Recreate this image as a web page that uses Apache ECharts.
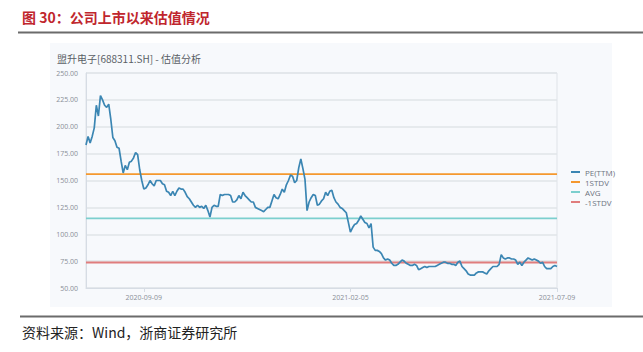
<!DOCTYPE html>
<html><head><meta charset="utf-8">
<script src="https://cdn.jsdelivr.net/npm/echarts@6/dist/echarts.min.js"></script>
<style>html,body{margin:0;padding:0;background:#fff}#c{width:643px;height:352px}</style>
</head><body><div id="c"></div>
<script>
// Trading-day calendar (category axis)
const startDate = '2020-07-31';
const endDate = '2021-07-09';
const holidays = ['2020-10-01','2020-10-02','2020-10-05','2020-10-06','2020-10-07','2020-10-08',
  '2021-01-01','2021-02-11','2021-02-12','2021-02-15','2021-02-16','2021-02-17',
  '2021-04-05','2021-05-03','2021-05-04','2021-05-05','2021-06-14'];
const tickLabels = ['2020-09-09','2021-02-05','2021-07-09'];
const seriesNames = ['PE(TTM)','1STDV','AVG','-1STDV'];

// PE(TTM) daily values
const peValues = [
183,191,185,191,199,220,210,229,225,220,218,221,207,190,187,181,180,168,157,164,
160,167,168,171,176,174,160,150,142,143,146,150,147,145,150,150,150,147,146,140,
139,136,140,136,140,143,142,142,139,135,133,130,127,125,127,125,126,124,127,122,
116,125,127,126,126,137,136,137,137,137,136,130,130,132,136,133,139,136,134,132,
130,130,125,124,123,122,121,123,125,125,131,137,134,133,137,142,139,146,150,155,
154,148,150,162,170,161,151,122,130,134,137,136,127,128,131,133,139,136,140,141,
134,130,128,125,124,122,120,111,102,106,109,110,113,117,114,111,110,106,110,88,
85,85,84,82,78,76,77,76,73,71,71,72,74,76,75,73,72,71,71,72,
71,67,68,69,70,69,70,70,70,70,71,72,73,74,74,73,73,72,72,71,
74,75,70,68,66,63,62,62,62,64,65,65,65,64,63,66,68,70,70,70,
72,81,78,77,78,78,77,77,76,72,74,71,74,76,78,77,76,77,76,75,
73,74,70,68,68,68,70,71,70];
const stdUp = 155.9;
const avg = 114.8;
const stdDown = 73.7;

function fmt(d){const m=d.getUTCMonth()+1, dd=d.getUTCDate();return d.getUTCFullYear()+'-'+(m<10?'0':'')+m+'-'+(dd<10?'0':'')+dd;}
const dates = [];
for (let d = new Date(startDate+'T00:00:00Z'); fmt(d) <= endDate; d.setUTCDate(d.getUTCDate()+1)) {
  const wd = d.getUTCDay(); const s = fmt(d);
  if (wd===0||wd===6||holidays.includes(s)) continue;
  dates.push(s);
}
const first = dates[0], last = dates[dates.length-1];
const isTick = (i, v) => tickLabels.includes(v);

const chart = echarts.init(document.getElementById('c'), null, {renderer:'svg'});
chart.setOption({
  animation:false,
  backgroundColor:'#ffffff',
  graphic:[
    {type:'rect', left:50, top:43, shape:{width:562, height:264}, style:{fill:'#f7f9fc'}, z:-10},
    {type:'text', left:22, top:10, style:{text:'图 30：公司上市以来估值情况', fill:'#c0262d', font:'bold 14px "Noto Sans CJK SC"'}},
    {type:'line', shape:{x1:18,y1:32.5,x2:643,y2:32.5}, style:{stroke:'#6b6b6b', lineWidth:2}},
    {type:'line', shape:{x1:20,y1:316.5,x2:643,y2:316.5}, style:{stroke:'#6b6b6b', lineWidth:2}},
    {type:'text', left:22, top:325, style:{text:'资料来源：Wind，浙商证券研究所', fill:'#222', font:'14px "Noto Sans CJK SC"'}}
  ],
  title:{text:'盟升电子[688311.SH] - 估值分析', left:52, top:48,
    textStyle:{fontSize:10, fontWeight:'normal', color:'#5a5f66', fontFamily:'"Noto Sans CJK SC"'}},
  legend:{orient:'vertical', left:566, top:163, itemWidth:9, itemHeight:2, itemGap:2, icon:'rect',
    data:seriesNames, textStyle:{fontSize:8, color:'#6d7380', fontFamily:'"Open Sans"'}},
  grid:{left:86, right:86, top:73, bottom:64, show:true, borderColor:'#dfe3e8', borderWidth:1, backgroundColor:'transparent'},
  xAxis:{type:'category', data:dates, boundaryGap:false,
    axisLine:{lineStyle:{color:'#d6dce4'}},
    axisTick:{interval:isTick, length:4, lineStyle:{color:'#d6dce4'}},
    axisLabel:{interval:isTick, fontSize:7, color:'#8a8f98', margin:6, fontFamily:'"Open Sans"'},
    splitLine:{show:false}},
  yAxis:{type:'value', min:50, max:250, interval:25,
    axisLine:{show:true, lineStyle:{color:'#d6dce4'}},
    axisTick:{show:false},
    axisLabel:{fontSize:7, color:'#8a8f98', margin:8, formatter:v=>v.toFixed(2), fontFamily:'"Open Sans"'},
    splitLine:{lineStyle:{color:'#e1e4e9', width:1.5}}},
  series:[
    {name:seriesNames[0], type:'line', data:peValues, showSymbol:false, lineStyle:{color:'#3b86b3', width:1.7}, itemStyle:{color:'#3b86b3'}, z:5},
    {name:seriesNames[1], type:'line', data:[[first,stdUp],[last,stdUp]], showSymbol:false, lineStyle:{color:'#f5982e', width:1.6}, itemStyle:{color:'#f5982e'}},
    {name:seriesNames[2], type:'line', data:[[first,avg],[last,avg]], showSymbol:false, lineStyle:{color:'#7ccfce', width:1.6}, itemStyle:{color:'#7ccfce'}},
    {name:seriesNames[3], type:'line', data:[[first,stdDown],[last,stdDown]], showSymbol:false, lineStyle:{color:'#e07d7d', width:2}, itemStyle:{color:'#e07d7d'}}
  ]
});
</script></body></html>
